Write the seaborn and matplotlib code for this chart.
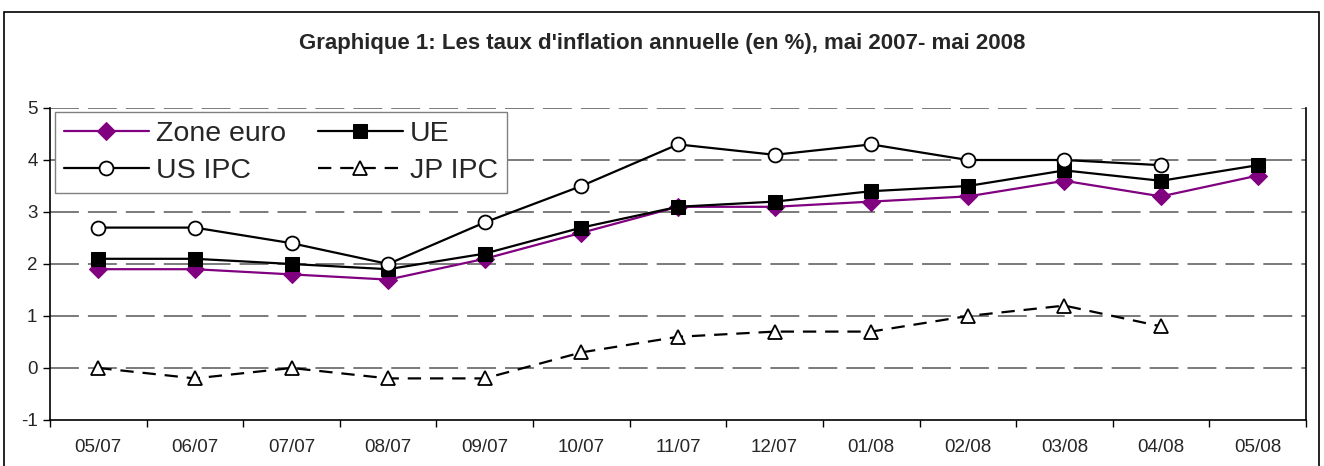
import matplotlib
matplotlib.use("Agg")
import matplotlib.pyplot as plt
import seaborn as sns
from matplotlib.patches import Rectangle
from matplotlib.ticker import FixedLocator

months = ["05/07", "06/07", "07/07", "08/07", "09/07", "10/07", "11/07",
          "12/07", "01/08", "02/08", "03/08", "04/08", "05/08"]
zone_euro = [1.9, 1.9, 1.8, 1.7, 2.1, 2.6, 3.1, 3.1, 3.2, 3.3, 3.6, 3.3, 3.7]
ue = [2.1, 2.1, 2.0, 1.9, 2.2, 2.7, 3.1, 3.2, 3.4, 3.5, 3.8, 3.6, 3.9]
us_ipc = [2.7, 2.7, 2.4, 2.0, 2.8, 3.5, 4.3, 4.1, 4.3, 4.0, 4.0, 3.9]
jp_ipc = [0.0, -0.2, 0.0, -0.2, -0.2, 0.3, 0.6, 0.7, 0.7, 1.0, 1.2, 0.8]
y_ticks = [-1, 0, 1, 2, 3, 4, 5]
title = "Graphique 1: Les taux d'inflation annuelle (en %), mai 2007- mai 2008"


def main():
    sns.set_theme(style="white")
    plt.rcParams["font.family"] = ["Liberation Sans", "DejaVu Sans"]
    plt.rcParams["axes.unicode_minus"] = False

    fig = plt.figure(figsize=(13.24, 4.66), dpi=100)
    ax = fig.add_axes([50 / 1324, 46 / 466, 1256 / 1324, 312 / 466])

    pos = list(range(len(months)))
    sns.lineplot(x=pos, y=zone_euro, ax=ax, color="#800080", lw=1.6,
                 marker="D", markersize=9, markeredgecolor="#800080",
                 label="Zone euro", zorder=3)
    sns.lineplot(x=pos, y=ue, ax=ax, color="black", lw=1.6,
                 marker="s", markersize=10, markeredgecolor="black",
                 label="UE", zorder=4)
    sns.lineplot(x=pos[:len(us_ipc)], y=us_ipc, ax=ax, color="black", lw=1.6,
                 marker="o", markersize=10, markerfacecolor="white",
                 markeredgecolor="black", markeredgewidth=1.3,
                 label="US IPC", zorder=4)
    sns.lineplot(x=pos[:len(jp_ipc)], y=jp_ipc, ax=ax, color="black", lw=1.6,
                 linestyle=(0, (6, 4)), marker="^", markersize=10,
                 markerfacecolor="white", markeredgecolor="black",
                 markeredgewidth=1.3, label="JP IPC", zorder=4)

    ax.set_xlim(-0.5, len(months) - 0.5)
    ax.set_ylim(-1, 5)
    ax.set_yticks(y_ticks)
    ax.set_xticks(pos)
    ax.set_xticklabels(months)
    ax.xaxis.set_minor_locator(FixedLocator([p - 0.5 for p in range(len(months) + 1)]))
    ax.tick_params(axis="x", which="major", length=0, pad=14, labelsize=13.5)
    ax.tick_params(axis="x", which="minor", length=5, width=1, color="black",
                   direction="out", bottom=True)
    ax.tick_params(axis="y", length=5, width=1, color="black", direction="out",
                   left=True, labelsize=13.5, pad=4)

    for yv in y_ticks[1:]:
        ax.axhline(yv, color="#707070", lw=1.3, linestyle=(0, (16, 5)), zorder=1)

    for side in ["left", "bottom", "right"]:
        ax.spines[side].set_color("black")
        ax.spines[side].set_linewidth(1.2)
    ax.spines["top"].set_visible(False)

    # legend rows: Zone euro / UE, then US IPC / JP IPC
    handles, labels = ax.get_legend_handles_labels()
    order = [0, 2, 1, 3]
    leg = ax.legend([handles[i] for i in order], [labels[i] for i in order],
                    loc="upper left", bbox_to_anchor=(0.004, 0.987),
                    borderaxespad=0, ncol=2, fontsize=20.5, frameon=True,
                    fancybox=False, edgecolor="#808080", framealpha=1,
                    handlelength=3.0, columnspacing=1.1, handletextpad=0.25,
                    borderpad=0.3, labelspacing=0.4)
    leg.get_frame().set_linewidth(1)
    leg.set_zorder(10)

    fig.text(0.5, 1 - 43 / 466, title, ha="center", va="center",
             fontsize=16, fontweight="bold")

    fig.patches.append(Rectangle((4 / 1324, -0.1), 1315 / 1324, 1.1 - 12 / 466,
                                 transform=fig.transFigure, fill=False,
                                 edgecolor="black", lw=1.2))

    fig.savefig("out.png", dpi=100)
    plt.close(fig)


if __name__ == "__main__":
    main()
